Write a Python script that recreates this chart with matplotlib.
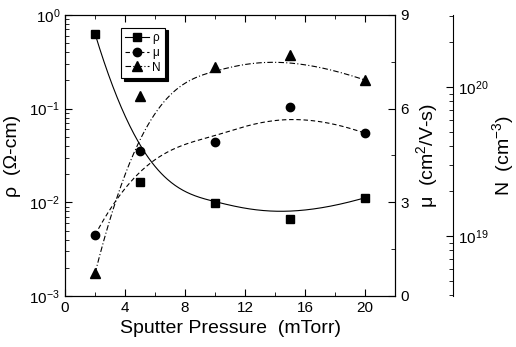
import numpy as np
import matplotlib.pyplot as plt

plt.rcParams['font.family'] = ['Liberation Sans', 'DejaVu Sans']
plt.rcParams['mathtext.fontset'] = 'custom'
plt.rcParams['mathtext.rm'] = 'Liberation Sans'

pressure = [2, 5, 10, 15, 20]
rho = [0.63, 0.0165, 0.0099, 0.0066, 0.0112]
mu = [1.95, 4.65, 4.93, 6.05, 5.21]
N = [5.6e18, 8.7e19, 1.36e20, 1.64e20, 1.11e20]


def basis(i, k, t, knots):
    # Cox-de Boor recursion
    if k == 0:
        return ((knots[i] <= t) & (t < knots[i + 1])).astype(float)
    out = np.zeros_like(t)
    d1 = knots[i + k] - knots[i]
    d2 = knots[i + k + 1] - knots[i + 1]
    if d1 > 0:
        out += (t - knots[i]) / d1 * basis(i, k - 1, t, knots)
    if d2 > 0:
        out += (knots[i + k + 1] - t) / d2 * basis(i + 1, k - 1, t, knots)
    return out


def bspline(px, py, n=300, k=3):
    # clamped B-spline using the data points as control points
    px, py = np.asarray(px, float), np.asarray(py, float)
    m = len(px)
    knots = np.concatenate([[0] * k, np.linspace(0, 1, m - k + 1), [1] * k])
    t = np.linspace(0, 1 - 1e-9, n)
    B = np.array([basis(i, k, t, knots) for i in range(m)])
    return B.T @ px, B.T @ py


xr, yr = bspline(pressure, np.log10(rho))
xm, ym = bspline(pressure, mu)
xn, yn = bspline(pressure, np.log10(N))

fig = plt.figure(figsize=(5.16, 3.47), dpi=100)
ax = fig.add_axes([0.126, 0.147, 0.64, 0.81])
ax2 = ax.twinx()
ax3 = ax.twinx()
ax3.spines['right'].set_position(('axes', 1.176))
for s in ['top', 'bottom', 'left']:
    ax3.spines[s].set_visible(False)

lw = 0.8
ms = 6
dash = (0, (4, 2.5))
dashdot = (0, (5, 2, 1, 2))
ax.plot(xr, 10 ** yr, color='black', lw=lw)
ax.plot(pressure, rho, 's', color='black', ms=ms)
ax2.plot(xm, ym, color='black', lw=lw, ls=dash)
ax2.plot(pressure, mu, 'o', color='black', ms=ms)
ax3.plot(xn, 10 ** yn, color='black', lw=lw, ls=dashdot)
ax3.plot(pressure, N, '^', color='black', ms=ms + 0.5)

ax.set_xlim(0, 22)
ax.set_ylim(1e-3, 1)
ax.set_yscale('log')
ax.set_xticks([0, 4, 8, 12, 16, 20])
ax.set_xticks(np.arange(2, 22, 4), minor=True)
ax.tick_params(which='both', direction='in', top=True, labelsize=11)
ax.tick_params(which='major', length=5)
ax.tick_params(which='minor', length=3)
ax.set_xlabel('Sputter Pressure  (mTorr)', fontsize=14)
ax.set_ylabel('ρ  (Ω-cm)', fontsize=14, labelpad=6)

ax2.set_ylim(0, 9)
ax2.set_yticks([0, 3, 6, 9])
ax2.set_yticks([1.5, 4.5, 7.5], minor=True)
ax2.tick_params(which='both', direction='in', labelsize=11)
ax2.tick_params(which='major', length=5)
ax2.tick_params(which='minor', length=3)
ax2.set_ylabel(r'μ  (cm$^2$/V-s)', fontsize=14)

ax3.set_yscale('log')
ax3.set_ylim(3.95e18, 3.04e20)
ax3.tick_params(which='both', direction='in', labelsize=11)
ax3.tick_params(which='major', length=5)
ax3.tick_params(which='minor', length=3)
ax3.set_ylabel(r'N  (cm$^{-3}$)', fontsize=14, labelpad=1)

h1 = plt.Line2D([], [], color='black', lw=lw, marker='s', ms=ms)
h2 = plt.Line2D([], [], color='black', lw=lw, ls=dash, marker='o', ms=ms)
h3 = plt.Line2D([], [], color='black', lw=lw, ls=dashdot, marker='^', ms=ms + 0.5)
leg = ax3.legend([h1, h2, h3], ['ρ', 'μ', 'N'], loc='upper left',
                 bbox_to_anchor=(0.17, 0.955), fontsize=8.5, handlelength=2.0,
                 handletextpad=0.3, borderpad=0.35, labelspacing=0.25,
                 borderaxespad=0, fancybox=False, edgecolor='black', framealpha=1,
                 shadow={'color': 'black', 'alpha': 1})
leg.get_frame().set_linewidth(0.8)

fig.savefig('out.png', dpi=100)
